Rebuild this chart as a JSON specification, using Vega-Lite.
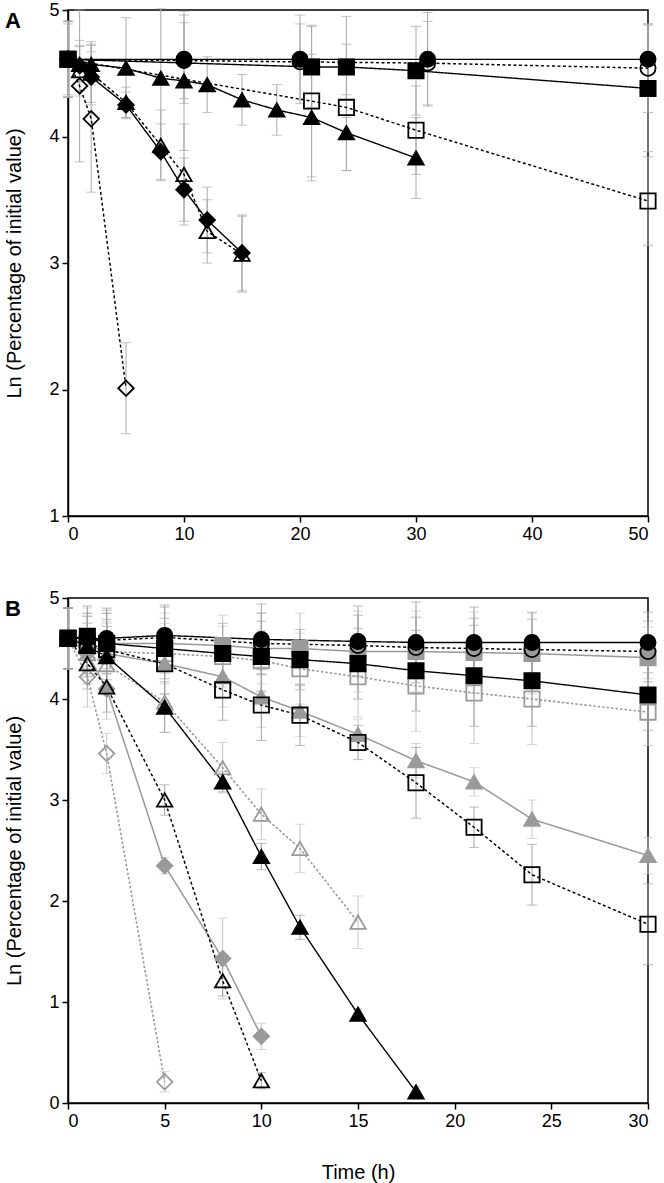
{
"$schema": "https://vega.github.io/schema/vega-lite/v6.json",
"padding": {"left": 4, "top": 0, "right": 4, "bottom": 3},
"spacing": 44,
"config": {
  "font": "Liberation Sans",
  "view": {"stroke": "black", "strokeWidth": 1.5},
  "axis": {"domainColor": "black", "domainWidth": 1.5, "tickColor": "black", "tickWidth": 1.5, "tickSize": 6, "labelFontSize": 18, "labelColor": "black", "labelFont": "Liberation Sans", "titleFont": "Liberation Sans", "titleFontSize": 20, "titleFontWeight": "normal", "titleColor": "black", "grid": false, "labelPadding": 3},
  "legend": {"disable": true}
},
"datasets": {
"A": [
{"m":"diamond","k":"black open","t":0,"v":4.61,"e":0.28},
{"m":"diamond","k":"black open","t":1,"v":4.40,"e":0.6},
{"m":"diamond","k":"black open","t":2,"v":4.14,"e":0.58},
{"m":"diamond","k":"black open","t":5,"v":2.01,"e":0.36},
{"m":"triangle","k":"black open","t":0,"v":4.61,"e":0.3},
{"m":"triangle","k":"black open","t":1,"v":4.52,"e":0.2},
{"m":"triangle","k":"black open","t":2,"v":4.50,"e":0.25},
{"m":"triangle","k":"black open","t":5,"v":4.27,"e":0.12},
{"m":"triangle","k":"black open","t":8,"v":3.93,"e":0.28},
{"m":"triangle","k":"black open","t":10,"v":3.70,"e":0.4},
{"m":"triangle","k":"black open","t":12,"v":3.25,"e":0.25},
{"m":"triangle","k":"black open","t":15,"v":3.07,"e":0.3},
{"m":"square","k":"black open","t":0,"v":4.61,"e":0.3},
{"m":"square","k":"black open","t":21,"v":4.28,"e":0.6},
{"m":"square","k":"black open","t":24,"v":4.23,"e":0.5},
{"m":"square","k":"black open","t":30,"v":4.05,"e":0.35},
{"m":"square","k":"black open","t":50,"v":3.49,"e":0.35},
{"m":"circle","k":"black open","t":0,"v":4.61,"e":0.3},
{"m":"circle","k":"black open","t":10,"v":4.60,"e":0.3},
{"m":"circle","k":"black open","t":20,"v":4.59,"e":0.3},
{"m":"circle","k":"black open","t":31,"v":4.58,"e":0.33},
{"m":"circle","k":"black open","t":50,"v":4.54,"e":0.35},
{"m":"diamond","k":"black filled","t":0,"v":4.61,"e":0.3},
{"m":"diamond","k":"black filled","t":1,"v":4.56,"e":0.2},
{"m":"diamond","k":"black filled","t":2,"v":4.47,"e":0.2},
{"m":"diamond","k":"black filled","t":5,"v":4.25,"e":0.1},
{"m":"diamond","k":"black filled","t":8,"v":3.88,"e":0.22},
{"m":"diamond","k":"black filled","t":10,"v":3.58,"e":0.25},
{"m":"diamond","k":"black filled","t":12,"v":3.34,"e":0.26},
{"m":"diamond","k":"black filled","t":15,"v":3.08,"e":0.3},
{"m":"triangle","k":"black filled","t":0,"v":4.61,"e":0.3},
{"m":"triangle","k":"black filled","t":1,"v":4.57,"e":0.14},
{"m":"triangle","k":"black filled","t":2,"v":4.57,"e":0.16},
{"m":"triangle","k":"black filled","t":5,"v":4.54,"e":0.4},
{"m":"triangle","k":"black filled","t":8,"v":4.46,"e":0.55},
{"m":"triangle","k":"black filled","t":10,"v":4.44,"e":0.55},
{"m":"triangle","k":"black filled","t":12,"v":4.41,"e":0.22},
{"m":"triangle","k":"black filled","t":15,"v":4.29,"e":0.2},
{"m":"triangle","k":"black filled","t":18,"v":4.21,"e":0.2},
{"m":"triangle","k":"black filled","t":21,"v":4.15,"e":0.5},
{"m":"triangle","k":"black filled","t":24,"v":4.03,"e":0.3},
{"m":"triangle","k":"black filled","t":30,"v":3.83,"e":0.32},
{"m":"square","k":"black filled","t":0,"v":4.61,"e":0.3},
{"m":"square","k":"black filled","t":21,"v":4.55,"e":0.32},
{"m":"square","k":"black filled","t":24,"v":4.55,"e":0.4},
{"m":"square","k":"black filled","t":30,"v":4.52,"e":0.35},
{"m":"square","k":"black filled","t":50,"v":4.38,"e":0.5},
{"m":"circle","k":"black filled","t":0,"v":4.61,"e":0.3},
{"m":"circle","k":"black filled","t":10,"v":4.61,"e":0.35},
{"m":"circle","k":"black filled","t":20,"v":4.61,"e":0.35},
{"m":"circle","k":"black filled","t":31,"v":4.61,"e":0.37},
{"m":"circle","k":"black filled","t":50,"v":4.61,"e":0.28}
],
"B": [
{"m":"diamond","k":"grey open","t":0,"v":4.60,"e":0.3},
{"m":"diamond","k":"grey open","t":1,"v":4.22,"e":0.3},
{"m":"diamond","k":"grey open","t":2,"v":3.46,"e":0.2},
{"m":"diamond","k":"grey open","t":5,"v":0.21,"e":0.1},
{"m":"triangle","k":"grey open","t":0,"v":4.60,"e":0.3},
{"m":"triangle","k":"grey open","t":1,"v":4.45,"e":0.3},
{"m":"triangle","k":"grey open","t":2,"v":4.34,"e":0.3},
{"m":"triangle","k":"grey open","t":5,"v":3.97,"e":0.3},
{"m":"triangle","k":"grey open","t":8,"v":3.32,"e":0.25},
{"m":"triangle","k":"grey open","t":10,"v":2.86,"e":0.25},
{"m":"triangle","k":"grey open","t":12,"v":2.52,"e":0.24},
{"m":"triangle","k":"grey open","t":15,"v":1.79,"e":0.26},
{"m":"square","k":"grey open","t":0,"v":4.60,"e":0.3},
{"m":"square","k":"grey open","t":1,"v":4.52,"e":0.3},
{"m":"square","k":"grey open","t":2,"v":4.47,"e":0.3},
{"m":"square","k":"grey open","t":5,"v":4.45,"e":0.3},
{"m":"square","k":"grey open","t":8,"v":4.42,"e":0.3},
{"m":"square","k":"grey open","t":10,"v":4.38,"e":0.3},
{"m":"square","k":"grey open","t":12,"v":4.30,"e":0.35},
{"m":"square","k":"grey open","t":15,"v":4.22,"e":0.4},
{"m":"square","k":"grey open","t":18,"v":4.13,"e":0.45},
{"m":"square","k":"grey open","t":21,"v":4.06,"e":0.5},
{"m":"square","k":"grey open","t":24,"v":4.00,"e":0.45},
{"m":"square","k":"grey open","t":30,"v":3.87,"e":0.33},
{"m":"diamond","k":"grey filled","t":0,"v":4.60,"e":0.3},
{"m":"diamond","k":"grey filled","t":1,"v":4.45,"e":0.3},
{"m":"diamond","k":"grey filled","t":2,"v":4.10,"e":0.3},
{"m":"diamond","k":"grey filled","t":5,"v":2.35,"e":0.08},
{"m":"diamond","k":"grey filled","t":8,"v":1.43,"e":0.4},
{"m":"diamond","k":"grey filled","t":10,"v":0.66,"e":0.13},
{"m":"triangle","k":"grey filled","t":0,"v":4.60,"e":0.3},
{"m":"triangle","k":"grey filled","t":1,"v":4.55,"e":0.3},
{"m":"triangle","k":"grey filled","t":2,"v":4.45,"e":0.3},
{"m":"triangle","k":"grey filled","t":5,"v":4.35,"e":0.3},
{"m":"triangle","k":"grey filled","t":8,"v":4.22,"e":0.3},
{"m":"triangle","k":"grey filled","t":10,"v":4.02,"e":0.3},
{"m":"triangle","k":"grey filled","t":12,"v":3.88,"e":0.25},
{"m":"triangle","k":"grey filled","t":15,"v":3.65,"e":0.15},
{"m":"triangle","k":"grey filled","t":18,"v":3.39,"e":0.17},
{"m":"triangle","k":"grey filled","t":21,"v":3.18,"e":0.14},
{"m":"triangle","k":"grey filled","t":24,"v":2.81,"e":0.19},
{"m":"triangle","k":"grey filled","t":30,"v":2.45,"e":0.18},
{"m":"square","k":"grey filled","t":0,"v":4.60,"e":0.3},
{"m":"square","k":"grey filled","t":1,"v":4.60,"e":0.3},
{"m":"square","k":"grey filled","t":2,"v":4.55,"e":0.3},
{"m":"square","k":"grey filled","t":5,"v":4.55,"e":0.3},
{"m":"square","k":"grey filled","t":8,"v":4.53,"e":0.3},
{"m":"square","k":"grey filled","t":10,"v":4.50,"e":0.35},
{"m":"square","k":"grey filled","t":12,"v":4.50,"e":0.35},
{"m":"square","k":"grey filled","t":15,"v":4.47,"e":0.4},
{"m":"square","k":"grey filled","t":18,"v":4.47,"e":0.4},
{"m":"square","k":"grey filled","t":21,"v":4.46,"e":0.4},
{"m":"square","k":"grey filled","t":24,"v":4.45,"e":0.4},
{"m":"square","k":"grey filled","t":30,"v":4.41,"e":0.3},
{"m":"triangle","k":"black open","t":0,"v":4.60,"e":0.3},
{"m":"triangle","k":"black open","t":1,"v":4.35,"e":0.25},
{"m":"triangle","k":"black open","t":2,"v":4.12,"e":0.25},
{"m":"triangle","k":"black open","t":5,"v":3.00,"e":0.15},
{"m":"triangle","k":"black open","t":8,"v":1.21,"e":0.15},
{"m":"triangle","k":"black open","t":10,"v":0.22,"e":0.08},
{"m":"square","k":"black open","t":0,"v":4.60,"e":0.3},
{"m":"square","k":"black open","t":1,"v":4.55,"e":0.3},
{"m":"square","k":"black open","t":2,"v":4.49,"e":0.3},
{"m":"square","k":"black open","t":5,"v":4.35,"e":0.3},
{"m":"square","k":"black open","t":8,"v":4.09,"e":0.3},
{"m":"square","k":"black open","t":10,"v":3.94,"e":0.35},
{"m":"square","k":"black open","t":12,"v":3.84,"e":0.3},
{"m":"square","k":"black open","t":15,"v":3.57,"e":0.17},
{"m":"square","k":"black open","t":18,"v":3.17,"e":0.35},
{"m":"square","k":"black open","t":21,"v":2.73,"e":0.2},
{"m":"square","k":"black open","t":24,"v":2.26,"e":0.3},
{"m":"square","k":"black open","t":30,"v":1.77,"e":0.4},
{"m":"circle","k":"black open","t":0,"v":4.60,"e":0.3},
{"m":"circle","k":"black open","t":2,"v":4.58,"e":0.3},
{"m":"circle","k":"black open","t":5,"v":4.61,"e":0.3},
{"m":"circle","k":"black open","t":10,"v":4.55,"e":0.3},
{"m":"circle","k":"black open","t":15,"v":4.53,"e":0.3},
{"m":"circle","k":"black open","t":18,"v":4.51,"e":0.3},
{"m":"circle","k":"black open","t":21,"v":4.50,"e":0.3},
{"m":"circle","k":"black open","t":24,"v":4.49,"e":0.3},
{"m":"circle","k":"black open","t":30,"v":4.47,"e":0.3},
{"m":"triangle","k":"black filled","t":0,"v":4.60,"e":0.3},
{"m":"triangle","k":"black filled","t":1,"v":4.52,"e":0.3},
{"m":"triangle","k":"black filled","t":2,"v":4.42,"e":0.3},
{"m":"triangle","k":"black filled","t":5,"v":3.92,"e":0.25},
{"m":"triangle","k":"black filled","t":8,"v":3.18,"e":0.1},
{"m":"triangle","k":"black filled","t":10,"v":2.44,"e":0.13},
{"m":"triangle","k":"black filled","t":12,"v":1.74,"e":0.12},
{"m":"triangle","k":"black filled","t":15,"v":0.88,"e":0.05},
{"m":"triangle","k":"black filled","t":18,"v":0.11,"e":0.05},
{"m":"square","k":"black filled","t":0,"v":4.60,"e":0.3},
{"m":"square","k":"black filled","t":1,"v":4.62,"e":0.3},
{"m":"square","k":"black filled","t":2,"v":4.55,"e":0.3},
{"m":"square","k":"black filled","t":5,"v":4.50,"e":0.3},
{"m":"square","k":"black filled","t":8,"v":4.45,"e":0.3},
{"m":"square","k":"black filled","t":10,"v":4.42,"e":0.35},
{"m":"square","k":"black filled","t":12,"v":4.39,"e":0.3},
{"m":"square","k":"black filled","t":15,"v":4.35,"e":0.35},
{"m":"square","k":"black filled","t":18,"v":4.28,"e":0.4},
{"m":"square","k":"black filled","t":21,"v":4.23,"e":0.5},
{"m":"square","k":"black filled","t":24,"v":4.18,"e":0.45},
{"m":"square","k":"black filled","t":30,"v":4.04,"e":0.35},
{"m":"circle","k":"black filled","t":0,"v":4.60,"e":0.3},
{"m":"circle","k":"black filled","t":2,"v":4.60,"e":0.3},
{"m":"circle","k":"black filled","t":5,"v":4.63,"e":0.3},
{"m":"circle","k":"black filled","t":10,"v":4.59,"e":0.35},
{"m":"circle","k":"black filled","t":15,"v":4.57,"e":0.35},
{"m":"circle","k":"black filled","t":18,"v":4.56,"e":0.4},
{"m":"circle","k":"black filled","t":21,"v":4.56,"e":0.35},
{"m":"circle","k":"black filled","t":24,"v":4.56,"e":0.3},
{"m":"circle","k":"black filled","t":30,"v":4.56,"e":0.3}
]
},
"vconcat": [
{
  "width": 580, "height": 506,
  "title": {"text": "A", "anchor": "start", "frame": "bounds", "offset": -32, "fontSize": 22, "fontWeight": "bold", "font": "Liberation Sans", "color": "black"},
  "data": {"name": "A"},
  "encoding": {
    "x": {"field": "t", "type": "quantitative", "scale": {"domain": [0, 50], "nice": false}, "axis": {"values": [0, 10, 20, 30, 40, 50], "title": null}},
    "y": {"field": "v", "type": "quantitative", "scale": {"domain": [1, 5], "nice": false, "zero": false}, "axis": {"values": [1, 2, 3, 4, 5], "title": "Ln (Percentage of initial value)", "titlePadding": 24}}
  },
  "layer": [
    {"mark": {"type": "errorbar", "ticks": {"size": 10}, "thickness": 1}, "encoding": {"yError": {"field": "e"}, "color": {"field": "k", "type": "nominal", "scale": {"domain": ["black filled", "black open", "grey filled", "grey open"], "range": ["#a8a8a8", "#a8a8a8", "#c4c4c4", "#c4c4c4"]}}}},
    {"mark": {"type": "line"}, "encoding": {"detail": {"field": "m"}, "stroke": {"field": "k", "type": "nominal", "scale": {"domain": ["black filled", "black open", "grey filled", "grey open"], "range": ["black", "black", "#9a9a9a", "#9a9a9a"]}}, "strokeDash": {"field": "k", "type": "nominal", "scale": {"domain": ["black filled", "black open", "grey filled", "grey open"], "range": [[1, 0], [3, 2.5], [1, 0], [2.5, 2]]}}, "strokeWidth": {"field": "k", "type": "nominal", "scale": {"domain": ["black filled", "black open", "grey filled", "grey open"], "range": [1.4, 1.6, 1.6, 1.2]}}}},
    {"mark": {"type": "point", "filled": true, "opacity": 1, "strokeWidth": 1.8}, "encoding": {
      "shape": {"field": "m", "type": "nominal", "scale": {"domain": ["circle", "square", "triangle", "diamond"], "range": ["circle", "square", "triangle-up", "diamond"]}},
      "size": {"field": "m", "type": "nominal", "scale": {"domain": ["circle", "square", "triangle", "diamond"], "range": [230, 240, 270, 280]}},
      "fill": {"field": "k", "type": "nominal", "scale": {"domain": ["black filled", "black open", "grey filled", "grey open"], "range": ["black", "transparent", "#9a9a9a", "transparent"]}},
      "stroke": {"field": "k", "type": "nominal", "scale": {"domain": ["black filled", "black open", "grey filled", "grey open"], "range": ["black", "black", "#9a9a9a", "#9a9a9a"]}}
    }}
  ]
},
{
  "width": 580, "height": 505,
  "title": {"text": "B", "anchor": "start", "frame": "bounds", "offset": -32, "fontSize": 22, "fontWeight": "bold", "font": "Liberation Sans", "color": "black"},
  "data": {"name": "B"},
  "encoding": {
    "x": {"field": "t", "type": "quantitative", "scale": {"domain": [0, 30], "nice": false}, "axis": {"values": [0, 5, 10, 15, 20, 25, 30], "title": "Time (h)", "titlePadding": 32}},
    "y": {"field": "v", "type": "quantitative", "scale": {"domain": [0, 5], "nice": false, "zero": false}, "axis": {"values": [0, 1, 2, 3, 4, 5], "title": "Ln (Percentage of initial value)", "titlePadding": 24}}
  },
  "layer": [
    {"mark": {"type": "errorbar", "ticks": {"size": 10}, "thickness": 1}, "encoding": {"yError": {"field": "e"}, "color": {"field": "k", "type": "nominal", "scale": {"domain": ["black filled", "black open", "grey filled", "grey open"], "range": ["#a0a0a0", "#a0a0a0", "#c4c4c4", "#c4c4c4"]}}}},
    {"mark": {"type": "line"}, "encoding": {"detail": {"field": "m"}, "stroke": {"field": "k", "type": "nominal", "scale": {"domain": ["black filled", "black open", "grey filled", "grey open"], "range": ["black", "black", "#9a9a9a", "#9a9a9a"]}}, "strokeDash": {"field": "k", "type": "nominal", "scale": {"domain": ["black filled", "black open", "grey filled", "grey open"], "range": [[1, 0], [3, 2.5], [1, 0], [2.5, 2]]}}, "strokeWidth": {"field": "k", "type": "nominal", "scale": {"domain": ["black filled", "black open", "grey filled", "grey open"], "range": [1.4, 1.6, 1.6, 1.2]}}}},
    {"mark": {"type": "point", "filled": true, "opacity": 1, "strokeWidth": 1.8}, "encoding": {
      "shape": {"field": "m", "type": "nominal", "scale": {"domain": ["circle", "square", "triangle", "diamond"], "range": ["circle", "square", "triangle-up", "diamond"]}},
      "size": {"field": "m", "type": "nominal", "scale": {"domain": ["circle", "square", "triangle", "diamond"], "range": [230, 240, 270, 280]}},
      "fill": {"field": "k", "type": "nominal", "scale": {"domain": ["black filled", "black open", "grey filled", "grey open"], "range": ["black", "transparent", "#9a9a9a", "transparent"]}},
      "stroke": {"field": "k", "type": "nominal", "scale": {"domain": ["black filled", "black open", "grey filled", "grey open"], "range": ["black", "black", "#9a9a9a", "#9a9a9a"]}}
    }}
  ]
}
],
"resolve": {"scale": {"x": "independent", "y": "independent", "color": "independent"}}
}
